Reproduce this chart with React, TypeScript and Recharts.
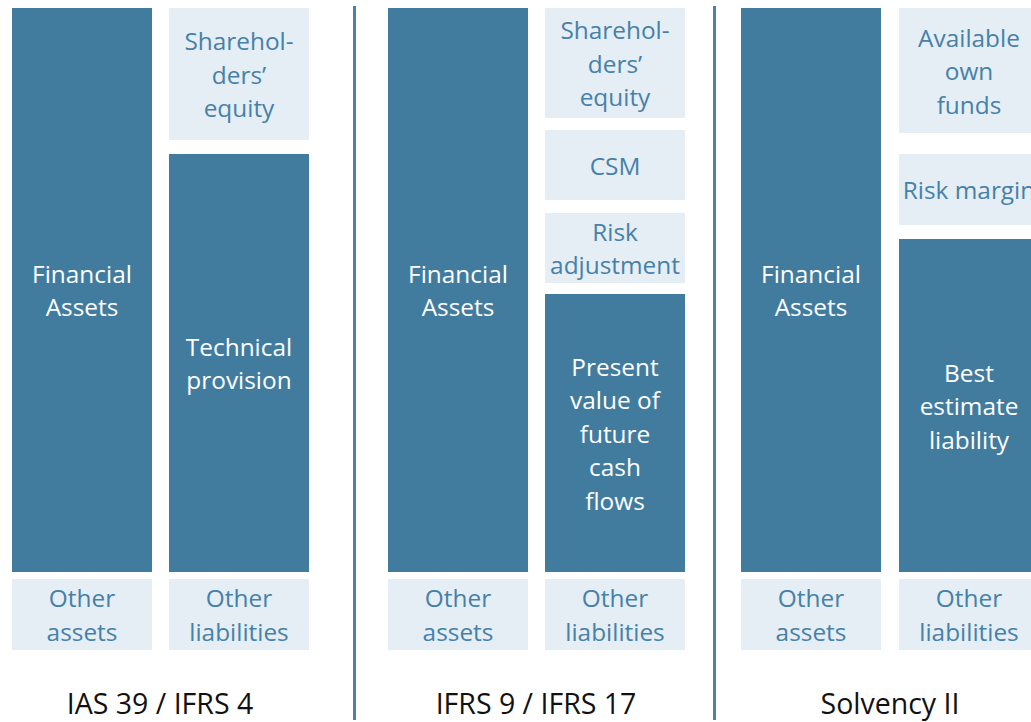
import { Bar, BarChart, Cell, LabelList, XAxis, YAxis } from "recharts";

// stacks are listed bottom -> top; "" entries are the white gaps between boxes
const groupNames = ["IAS 39 / IFRS 4", "IFRS 9 / IFRS 17", "Solvency II"];

const assetLabels = ["Other\nassets", "", "Financial\nAssets"];
const assetValues = [71, 7, 564];

const ifrs4Labels = ["Other\nliabilities", "", "Technical\nprovision", "", "Sharehol-\nders’\nequity"];
const ifrs4Values = [71, 7, 418, 14, 132];

const ifrs17Labels = [
  "Other\nliabilities",
  "",
  "Present\nvalue of\nfuture\ncash\nflows",
  "",
  "Risk\nadjustment",
  "",
  "CSM",
  "",
  "Sharehol-\nders’\nequity",
];
const ifrs17Values = [71, 7, 278, 11, 70, 13, 70, 12, 110];

const solvencyLabels = ["Other\nliabilities", "", "Best\nestimate\nliability", "", "Risk margin", "", "Available\nown\nfunds"];
const solvencyValues = [71, 7, 333, 14, 71, 21, 125];

const darkItems = [
  "Financial\nAssets",
  "Technical\nprovision",
  "Present\nvalue of\nfuture\ncash\nflows",
  "Best\nestimate\nliability",
];

const DARK = "#417c9f";
const LIGHT = "#e5eef4";
const LIGHT_TEXT = "#4581a9";
const FONT = "'Open Sans', sans-serif";
const TOTAL = 642;
const LEVELS = 9;

type Row = Record<string, string | number>;

function buildRows(liabLabels: string[], liabValues: number[]): Row[] {
  const cols = [
    { col: "assets", labels: assetLabels, values: assetValues },
    { col: "liabilities", labels: liabLabels, values: liabValues },
  ];
  return cols.map((c) => {
    const r: Row = { col: c.col };
    for (let i = 0; i < LEVELS; i++) {
      r[`v${i}`] = c.values[i] ?? 0;
      r[`l${i}`] = c.labels[i] ?? "";
    }
    return r;
  });
}

function fillFor(label: string) {
  if (!label) return "transparent";
  return darkItems.includes(label) ? DARK : LIGHT;
}

function BoxLabel(props: any) {
  const { x, y, width, height, value } = props;
  if (!value) return null;
  const lines = String(value).split("\n");
  const lh = 33.5;
  const cx = Number(x) + Number(width) / 2;
  const cy = Number(y) + Number(height) / 2;
  const dark = darkItems.includes(String(value));
  return (
    <text
      x={cx}
      y={cy}
      textAnchor="middle"
      fontFamily={FONT}
      fontSize={24.4}
      fill={dark ? "#ffffff" : LIGHT_TEXT}
    >
      {lines.map((ln, k) => (
        <tspan key={k} x={cx} y={cy + (k - (lines.length - 1) / 2) * lh} dominantBaseline="central">
          {ln}
        </tspan>
      ))}
    </text>
  );
}

function Panel({
  name,
  left,
  width,
  liabLabels,
  liabValues,
}: {
  name: string;
  left: number;
  width: number;
  liabLabels: string[];
  liabValues: number[];
}) {
  const data = buildRows(liabLabels, liabValues);
  const bars = [];
  for (let i = 0; i < LEVELS; i++) {
    bars.push(
      <Bar key={i} dataKey={`v${i}`} stackId="s" barSize={140} isAnimationActive={false}>
        {data.map((r, j) => (
          <Cell key={j} fill={fillFor(String(r[`l${i}`]))} />
        ))}
        <LabelList dataKey={`l${i}`} content={BoxLabel} />
      </Bar>
    );
  }
  return (
    <div style={{ position: "absolute", left, top: 8 }}>
      <BarChart width={width} height={714} data={data} margin={{ top: 0, right: 0, left: 0, bottom: 0 }}>
        <YAxis hide domain={[0, TOTAL]} />
        <XAxis
          dataKey="col"
          height={72}
          tick={false}
          tickLine={false}
          axisLine={false}
          label={{
            value: name,
            position: "insideBottom",
            offset: 8,
            style: { fontFamily: FONT, fontSize: 28.5, fill: "#111111" },
          }}
        />
        {bars}
      </BarChart>
    </div>
  );
}

export default function App() {
  return (
    <div
      style={{
        position: "absolute",
        left: 0,
        top: 0,
        width: 1031,
        height: 722,
        overflow: "hidden",
        background: "#ffffff",
      }}
    >
      <Panel name={groupNames[0]} left={3} width={314} liabLabels={ifrs4Labels} liabValues={ifrs4Values} />
      <Panel name={groupNames[1]} left={379} width={314} liabLabels={ifrs17Labels} liabValues={ifrs17Values} />
      <Panel name={groupNames[2]} left={732} width={316} liabLabels={solvencyLabels} liabValues={solvencyValues} />
      <div style={{ position: "absolute", left: 353, top: 6, width: 2.5, height: 714, background: "#4a82ab" }} />
      <div style={{ position: "absolute", left: 713, top: 6, width: 2.5, height: 714, background: "#4a82ab" }} />
    </div>
  );
}
